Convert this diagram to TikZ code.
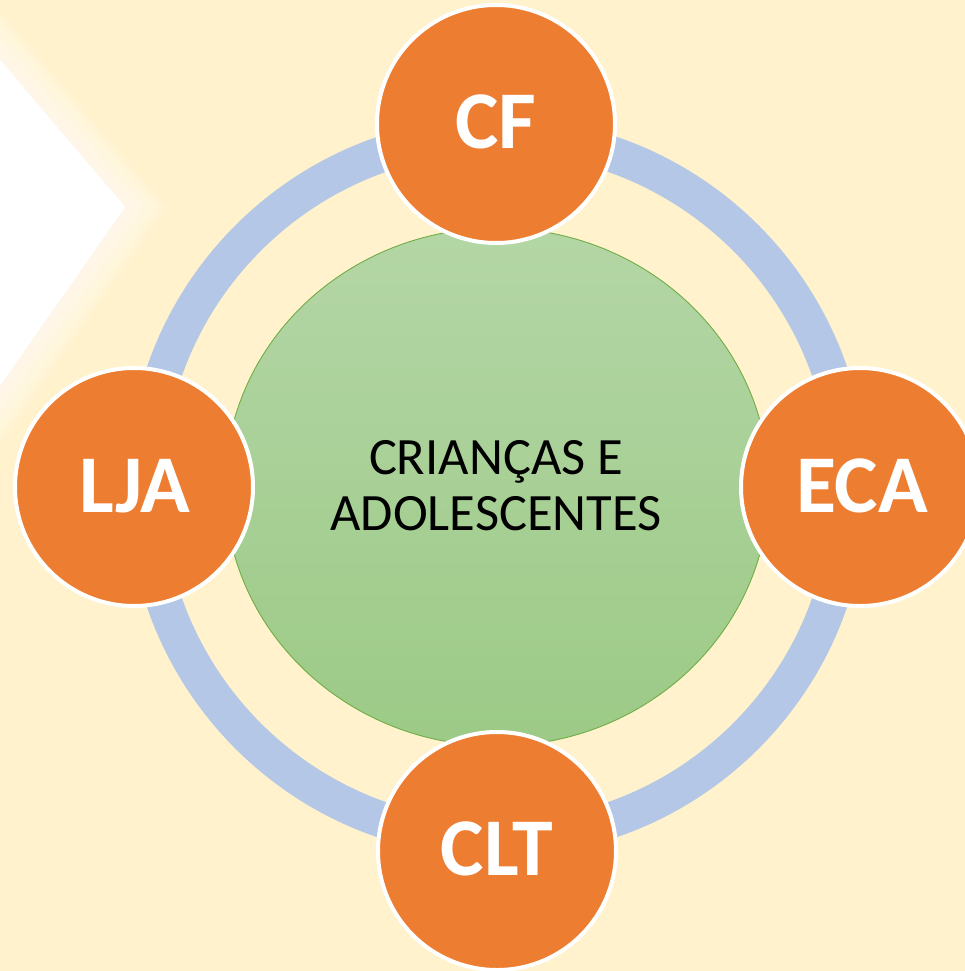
\documentclass[tikz,border=0pt]{standalone}
\usepackage{fontspec}
\setmainfont{Carlito}
\definecolor{bgyellow}{HTML}{FFF2CC}
\definecolor{ringblue}{HTML}{B4C7E7}
\definecolor{orangefill}{HTML}{ED7D31}
\definecolor{greentop}{HTML}{B4D6A6}
\definecolor{greenbot}{HTML}{9CCA86}
\definecolor{greenedge}{HTML}{70AD47}
\begin{document}
\begin{tikzpicture}[x=1pt,y=-1pt,
  orb/.style={circle, fill=orangefill, draw=white, line width=4pt, minimum size=238pt, inner sep=0pt},
  lbl/.style={anchor=base, text=white, font=\fontsize{82}{82}\selectfont\bfseries, inner sep=0pt},
  maintext/.style={align=center, text=black, font=\fontsize{52.5}{56}\selectfont, inner sep=0pt}]
\useasboundingbox (0,0) rectangle (965,971);
\clip (0,0) rectangle (965,971);
\fill[bgyellow] (0,0) rectangle (965,971);
% soft white chevron
\foreach \k in {1,...,10}{
  \begin{scope}[xshift=\k*4.3pt]
    \fill[white, opacity=0.1] (-400,-193) -- (-215,-193) -- (125,207) -- (-155,607) -- (-400,607) -- cycle;
  \end{scope}
}
\fill[white] (-400,-193) -- (-215,-193) -- (125,207) -- (-155,607) -- (-400,607) -- cycle;
% ring
\draw[ringblue, line width=36pt] (497,487) circle [radius=352];
% central ellipse
\shade[top color=greentop, bottom color=greenbot] (497,487) ellipse [x radius=272, y radius=259];
\draw[greenedge, line width=0.9pt] (497,487) ellipse [x radius=272, y radius=259];
\node[maintext] (center) at (496,486) {CRIANÇAS E\\ADOLESCENTES};
% orange circles
\node[orb] (cf) at (496,124) {};
\node[orb] (eca) at (860,487) {};
\node[orb] (lja) at (134,487) {};
\node[orb] (clt) at (497,851) {};
\node[lbl] (cft) at (496,148) {CF};
\node[lbl] (ecat) at (862,512) {ECA};
\node[lbl] (ljat) at (135,512) {LJA};
\node[lbl] (cltt) at (497,875) {CLT};
\end{tikzpicture}
\end{document}
